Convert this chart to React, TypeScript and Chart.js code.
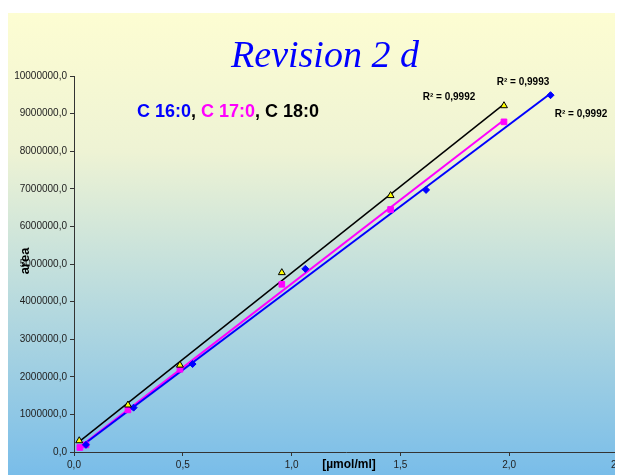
import React, { useEffect, useRef } from "react";
import { Chart, registerables } from "chart.js";

Chart.register(...registerables);

// Concentration [µmol/ml] and peak area for each fatty acid standard
const c16X = [0.055, 0.274, 0.545, 1.063, 1.618, 2.19];
const c16Y = [190000, 1180000, 2340000, 4870000, 6970000, 9490000];

const c17X = [0.027, 0.055, 0.248, 0.487, 0.955, 1.455, 1.976];
const c17Y = [120000, 190000, 1120000, 2200000, 4460000, 6450000, 8780000];

const c18X = [0.024, 0.248, 0.487, 0.955, 1.455, 1.976];
const c18Y = [300000, 1250000, 2310000, 4770000, 6820000, 9210000];

const xTickLabels = ["0,0", "0,5", "1,0", "1,5", "2,0", "2,5"];
const yTickLabels = [
  "0,0", "1000000,0", "2000000,0", "3000000,0", "4000000,0", "5000000,0",
  "6000000,0", "7000000,0", "8000000,0", "9000000,0", "10000000,0",
];

const r2Labels = ["R² = 0,9992", "R² = 0,9992", "R² = 0,9993"];

const BLUE = "#0000ff";
const MAGENTA = "#ff00ff";
const BLACK = "#000000";

const pts = (xs: number[], ys: number[]) => xs.map((x, i) => ({ x, y: ys[i] }));

// Least-squares linear trend line over the series' x range
function trend(xs: number[], ys: number[]) {
  const n = xs.length;
  const mx = xs.reduce((a, b) => a + b, 0) / n;
  const my = ys.reduce((a, b) => a + b, 0) / n;
  let sxy = 0;
  let sxx = 0;
  for (let i = 0; i < n; i++) {
    sxy += (xs[i] - mx) * (ys[i] - my);
    sxx += (xs[i] - mx) * (xs[i] - mx);
  }
  const b = sxy / sxx;
  const a = my - b * mx;
  const x0 = Math.min(...xs);
  const x1 = Math.max(...xs);
  return [
    { x: x0, y: a + b * x0 },
    { x: x1, y: a + b * x1 },
  ];
}

const backdrop = {
  id: "backdrop",
  beforeDraw(chart: any) {
    const { ctx, width, height } = chart;
    const g = ctx.createLinearGradient(0, 0, 0, height);
    g.addColorStop(0, "#fdfdd2");
    g.addColorStop(0.3, "#eef3d4");
    g.addColorStop(0.55, "#c4e0dc");
    g.addColorStop(1, "#79bde9");
    ctx.save();
    ctx.fillStyle = g;
    ctx.fillRect(0, 0, width, height);
    ctx.restore();
  },
};

const captions = {
  id: "captions",
  afterDraw(chart: any) {
    const ctx = chart.ctx;
    ctx.save();
    ctx.textBaseline = "middle";

    // Title
    ctx.font = "italic 38px 'Liberation Serif', 'Times New Roman', serif";
    ctx.fillStyle = BLUE;
    ctx.textAlign = "center";
    ctx.fillText("Revision 2 d", 317, 44);

    // Series names in their colours
    ctx.font = "bold 18px 'Liberation Sans', Arial, sans-serif";
    ctx.textAlign = "left";
    const parts: [string, string][] = [
      ["C 16:0", BLUE],
      [", ", BLACK],
      ["C 17:0", MAGENTA],
      [", ", BLACK],
      ["C 18:0", BLACK],
    ];
    let x = 129;
    for (const [t, c] of parts) {
      ctx.fillStyle = c;
      ctx.fillText(t, x, 99);
      x += ctx.measureText(t).width;
    }

    // Coefficients of determination
    ctx.font = "bold 10px 'Liberation Sans', Arial, sans-serif";
    ctx.fillStyle = BLACK;
    ctx.textAlign = "center";
    ctx.fillText(r2Labels[0], 573, 101);
    ctx.fillText(r2Labels[1], 441, 84);
    ctx.fillText(r2Labels[2], 515, 69);

    // Axis titles
    ctx.font = "bold 12px 'Liberation Sans', Arial, sans-serif";
    ctx.fillText("[µmol/ml]", 341, 452);
    ctx.save();
    ctx.translate(17, 248);
    ctx.rotate(-Math.PI / 2);
    ctx.font = "bold 13px 'Liberation Sans', Arial, sans-serif";
    ctx.fillText("area", 0, 0);
    ctx.restore();

    ctx.restore();
  },
};

export default function App() {
  const ref = useRef<HTMLCanvasElement>(null);

  useEffect(() => {
    if (!ref.current) return;
    const axisColor = "#333333";
    const tickFont = { family: "'Liberation Sans', Arial, sans-serif", size: 10 };
    const chart = new Chart(ref.current, {
      type: "scatter",
      data: {
        datasets: [
          {
            data: trend(c16X, c16Y),
            type: "line",
            borderColor: BLUE,
            borderWidth: 2,
            pointRadius: 0,
            order: 2,
          },
          {
            data: trend(c17X, c17Y),
            type: "line",
            borderColor: MAGENTA,
            borderWidth: 2,
            pointRadius: 0,
            order: 2,
          },
          {
            data: trend(c18X, c18Y),
            type: "line",
            borderColor: BLACK,
            borderWidth: 1.5,
            pointRadius: 0,
            order: 2,
          },
          {
            data: pts(c16X, c16Y),
            pointStyle: "rectRot",
            pointRadius: 3.5,
            backgroundColor: BLUE,
            borderColor: BLUE,
            borderWidth: 1,
            order: 1,
          },
          {
            data: pts(c17X, c17Y),
            pointStyle: "rect",
            pointRadius: 4,
            backgroundColor: MAGENTA,
            borderColor: MAGENTA,
            borderWidth: 1,
            order: 1,
          },
          {
            data: pts(c18X, c18Y),
            pointStyle: "triangle",
            pointRadius: 4,
            backgroundColor: "#ffff00",
            borderColor: BLACK,
            borderWidth: 1,
            order: 0,
          },
        ],
      },
      options: {
        responsive: false,
        animation: false,
        devicePixelRatio: 1,
        layout: { padding: { top: 63, left: 0, right: 0.5, bottom: 0 } },
        plugins: { legend: { display: false }, tooltip: { enabled: false } },
        scales: {
          x: {
            type: "linear",
            min: 0,
            max: 2.5,
            ticks: {
              stepSize: 0.5,
              font: tickFont,
              color: "#222",
              padding: 3,
              maxRotation: 0,
              callback: (_v: any, i: number) => xTickLabels[i],
            },
            grid: { drawOnChartArea: false, drawTicks: true, tickLength: 4, color: axisColor },
            border: { display: true, color: axisColor, width: 1 },
            afterFit: (s: any) => {
              s.height = 23;
              s.paddingLeft = 0;
              s.paddingRight = 0;
            },
          },
          y: {
            type: "linear",
            min: 0,
            max: 10000000,
            ticks: {
              stepSize: 1000000,
              font: tickFont,
              color: "#222",
              padding: 3,
              callback: (_v: any, i: number) => yTickLabels[i],
            },
            grid: { drawOnChartArea: false, drawTicks: true, tickLength: 4, color: axisColor },
            border: { display: true, color: axisColor, width: 1 },
            afterFit: (s: any) => {
              s.width = 66;
              s.paddingTop = 0;
              s.paddingBottom = 0;
            },
          },
        },
      },
      plugins: [backdrop, captions],
    } as any);
    return () => chart.destroy();
  }, []);

  return (
    <div style={{ marginTop: 5 }}>
      <canvas ref={ref} width={615} height={462} style={{ display: "block" }} />
    </div>
  );
}
